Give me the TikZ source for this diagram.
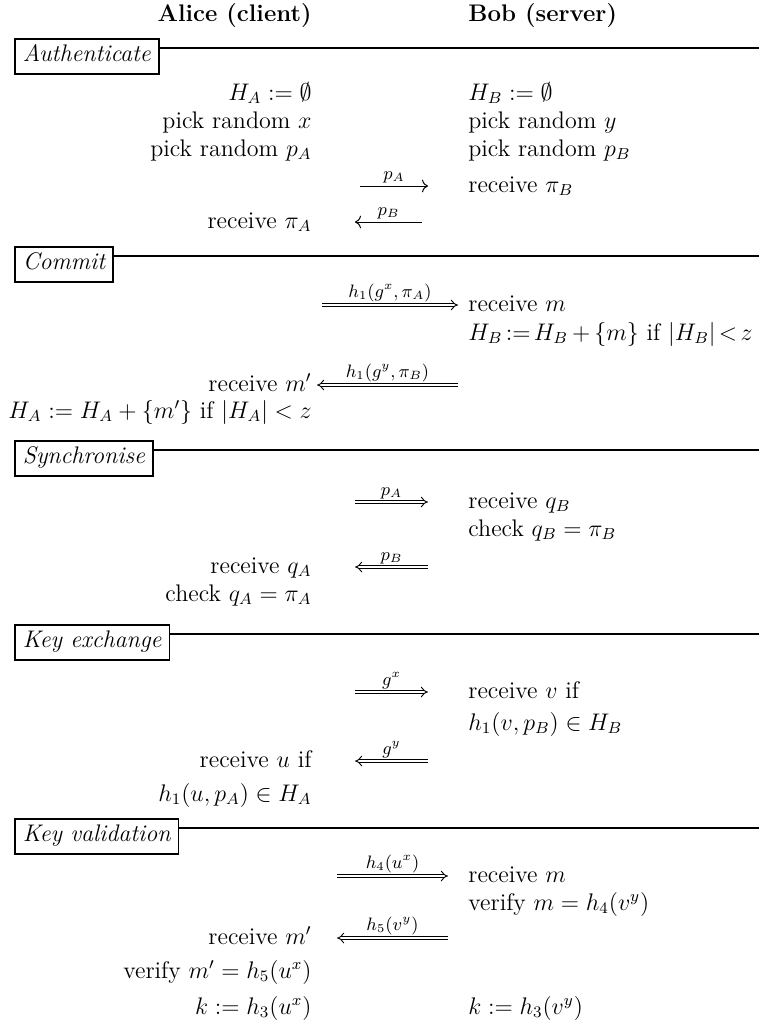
\documentclass[tikz,border=0pt]{standalone}
\usepackage{tikz}
\usetikzlibrary{arrows.meta,calc}
\tikzset{alice/.style={anchor=base east, inner sep=0pt, font=\large},
  bob/.style={anchor=base west, inner sep=0pt, font=\large},
  phase/.style={draw, line width=0.9pt, anchor=north west, font=\large\itshape,
    inner xsep=4pt, inner ysep=0pt, text height=9pt, text depth=3.5pt, minimum height=17.5pt},
  rule/.style={line width=0.9pt},
  msg/.style={line width=0.5pt, -{To[length=3pt]}},
  dmsg/.style={double, double distance=1.4pt, line width=0.45pt, -{Implies}},
  lbl/.style={font=\small, above=0.5pt, inner sep=1pt}}
\begin{document}
\begin{tikzpicture}[x=0.5pt, y=-0.5pt]
  \useasboundingbox (0,0) rectangle (759,1029);
  \coordinate (edge) at (759,0);
  % header
  \node[alice, font=\large\bfseries] (alice) at (312,21) {Alice (client)};
  \node[bob, font=\large\bfseries] (bob) at (468,21) {Bob (server)};
  % authenticate
  \node[phase] (auth) at (14,38) {Authenticate};
  \draw[rule] ($(auth.north east)+(0,10)$) coordinate (r1) -- (r1 -| edge);
  \node[alice] (ha) at (312,100) {$H_A := \emptyset$};
  \node[alice] (px) at (312,128) {pick random $x$};
  \node[alice] (ppa) at (312,156) {pick random $p_A$};
  \node[alice] (rpia) at (312,228) {receive $\pi_A$};
  \node[bob] (hb) at (468,100) {$H_B := \emptyset$};
  \node[bob] (py) at (468,128) {pick random $y$};
  \node[bob] (ppb) at (468,156) {pick random $p_B$};
  \node[bob] (rpib) at (468,192) {receive $\pi_B$};
  \coordinate (a1s) at (360,186); \coordinate (a1e) at (428,186);
  \draw[msg] (a1s) -- node[lbl] (la1) {$p_A$} (a1e);
  \coordinate (a2s) at (422,222); \coordinate (a2e) at (355,222);
  \draw[msg] (a2s) -- node[lbl] (la2) {$p_B$} (a2e);
  % commit
  \node[phase] (commit) at (14,246) {Commit};
  \draw[rule] ($(commit.north east)+(0,10)$) coordinate (r2) -- (r2 -| edge);
  \coordinate (c1s) at (322,305); \coordinate (c1e) at (458,305);
  \draw[dmsg] (c1s) -- node[lbl] (lc1) {$h_1(g^x,\pi_A)$} (c1e);
  \node[bob] (rm) at (468,311) {receive $m$};
  \node[bob] (hbu) at (468,340) {\thickmuskip=2.5mu \medmuskip=3mu $H_B := H_B + \{m\}$ if $|H_B| < z$};
  \node[alice] (rmp) at (312,391) {receive $m'$};
  \coordinate (c2s) at (458,385); \coordinate (c2e) at (317,385);
  \draw[dmsg] (c2s) -- node[lbl] (lc2) {$h_1(g^y,\pi_B)$} (c2e);
  \node[alice] (hau) at (312,418) {$H_A := H_A + \{m'\}$ if $|H_A| < z$};
  % synchronise
  \node[phase] (sync) at (14,440) {Synchronise};
  \draw[rule] ($(sync.north east)+(0,10)$) coordinate (r3) -- (r3 -| edge);
  \coordinate (s1s) at (355,502); \coordinate (s1e) at (428,502);
  \draw[dmsg] (s1s) -- node[lbl] (ls1) {$p_A$} (s1e);
  \node[bob] (rqb) at (468,508) {receive $q_B$};
  \node[bob] (cqb) at (468,536) {check $q_B = \pi_B$};
  \node[alice] (rqa) at (312,573) {receive $q_A$};
  \coordinate (s2s) at (428,567); \coordinate (s2e) at (355,567);
  \draw[dmsg] (s2s) -- node[lbl] (ls2) {$p_B$} (s2e);
  \node[alice] (cqa) at (312,601) {check $q_A = \pi_A$};
  % key exchange
  \node[phase] (kex) at (14,624) {Key exchange};
  \draw[rule] ($(kex.north east)+(0,10)$) coordinate (r4) -- (r4 -| edge);
  \coordinate (k1s) at (355,692); \coordinate (k1e) at (428,692);
  \draw[dmsg] (k1s) -- node[lbl] (lk1) {$g^x$} (k1e);
  \node[bob] (rv) at (468,698) {receive $v$ if};
  \node[bob] (hv) at (468,730) {$h_1(v, p_B) \in H_B$};
  \node[alice] (ru) at (312,767) {receive $u$ if};
  \coordinate (k2s) at (428,761); \coordinate (k2e) at (355,761);
  \draw[dmsg] (k2s) -- node[lbl] (lk2) {$g^y$} (k2e);
  \node[alice] (hu) at (312,801) {$h_1(u, p_A) \in H_A$};
  % key validation
  \node[phase] (kval) at (14,818) {Key validation};
  \draw[rule] ($(kval.north east)+(0,10)$) coordinate (r5) -- (r5 -| edge);
  \coordinate (v1s) at (337,876); \coordinate (v1e) at (448,876);
  \draw[dmsg] (v1s) -- node[lbl] (lv1) {$h_4(u^x)$} (v1e);
  \node[bob] (rm2) at (468,882) {receive $m$};
  \node[bob] (vm2) at (468,910) {verify $m = h_4(v^y)$};
  \node[alice] (rm3) at (312,944) {receive $m'$};
  \coordinate (v2s) at (448,938); \coordinate (v2e) at (337,938);
  \draw[dmsg] (v2s) -- node[lbl] (lv2) {$h_5(v^y)$} (v2e);
  \node[alice] (vm3) at (312,978) {verify $m' = h_5(u^x)$};
  \node[alice] (ka) at (312,1014) {$k := h_3(u^x)$};
  \node[bob] (kb) at (468,1014) {$k := h_3(v^y)$};
\end{tikzpicture}
\end{document}
